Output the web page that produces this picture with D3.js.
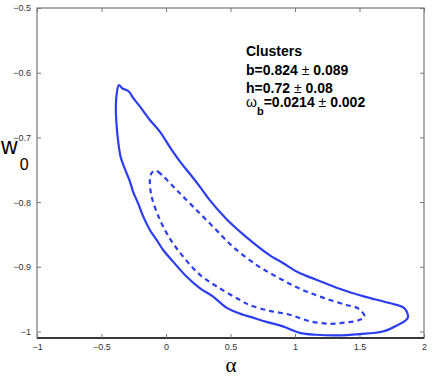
<!DOCTYPE html>
<meta charset="utf-8">
<html>
<head>
<style>
  body { margin: 0; background: #fff; }
  .tick text { font-family: "Liberation Sans", Arial, sans-serif; font-size: 9px; fill: #333; }
  .legend { font-family: "Liberation Sans", Arial, sans-serif; font-size: 14px; font-weight: bold; fill: #000; }
</style>
<script src="https://d3js.org/d3.v7.min.js"></script>
</head>
<body>
<svg width="436" height="382"></svg>
<script>
// ---- data ----
var xTicks = [-1, -0.5, 0, 0.5, 1, 1.5, 2];
var yTicks = [-1, -0.9, -0.8, -0.7, -0.6, -0.5];

// outer (solid) contour
var outerAlpha = [-0.365, -0.340, -0.288, -0.255, -0.203, -0.125, -0.048, 0.043, 0.107, 0.200, 0.262, 0.339,
  0.468, 0.623, 0.811, 0.906, 1.020, 1.165, 1.268, 1.345, 1.539, 1.732, 1.848, 1.874, 1.786, 1.680, 1.500,
  1.320, 1.165, 1.036, 0.906, 0.778, 0.649, 0.597, 0.468, 0.365, 0.262, 0.159, 0.055, -0.022, -0.074,
  -0.125, -0.177, -0.216, -0.255, -0.280, -0.306, -0.332, -0.352, -0.371, -0.383, -0.389, -0.383];
var outerW = [-0.619, -0.624, -0.629, -0.639, -0.652, -0.673, -0.691, -0.719, -0.737, -0.760, -0.776, -0.797,
  -0.826, -0.854, -0.883, -0.894, -0.908, -0.920, -0.928, -0.934, -0.946, -0.956, -0.964, -0.979, -0.991, -1.000, -1.004,
  -1.006, -1.005, -1.002, -0.992, -0.985, -0.977, -0.974, -0.963, -0.946, -0.933, -0.915, -0.892, -0.874, -0.858,
  -0.843, -0.822, -0.802, -0.784, -0.768, -0.755, -0.742, -0.730, -0.706, -0.681, -0.654, -0.634];

// inner (dashed) contour
var innerAlpha = [-0.083, -0.061, -0.022, 0.081, 0.210, 0.365, 0.519, 0.700, 0.827, 0.958, 1.087, 1.237, 1.397,
  1.487, 1.539, 1.485, 1.397, 1.276, 1.113, 0.958, 0.803, 0.649, 0.571, 0.391, 0.262, 0.132, 0.029, -0.048,
  -0.112, -0.125, -0.112];
var innerW = [-0.751, -0.753, -0.760, -0.781, -0.807, -0.838, -0.869, -0.897, -0.912, -0.926, -0.938, -0.949, -0.959,
  -0.964, -0.977, -0.983, -0.986, -0.988, -0.984, -0.974, -0.968, -0.959, -0.951, -0.930, -0.912, -0.884, -0.856, -0.827,
  -0.791, -0.766, -0.755];

var legendTitle = "Clusters";
var legendNames = ["b", "h", "\u03c9"];
var legendSubs = ["", "", "b"];
var legendValues = ["0.824", "0.72", "0.0214"];
var legendErrors = ["0.089", "0.08", "0.002"];

// ---- layout ----
var svg = d3.select("svg");
var mLeft = 37, mRight = 424, mTop = 8, mBottom = 338;
var blue = "#2b3ef2";

var x = d3.scaleLinear().domain([-1, 2]).range([mLeft, mRight]);
var y = d3.scaleLinear().domain([-1.01, -0.5]).range([mBottom, mTop]);

// frame
svg.append("rect")
   .attr("x", mLeft).attr("y", mTop)
   .attr("width", mRight - mLeft).attr("height", mBottom - mTop)
   .attr("fill", "none").attr("stroke", "#777").attr("stroke-width", 1.2);
svg.append("line")
   .attr("x1", mLeft).attr("x2", mRight).attr("y1", mBottom).attr("y2", mBottom)
   .attr("stroke", "#111").attr("stroke-width", 1.5);

// axes (ticks pointing inwards, matlab style)
function styleAxis(g) {
  g.select(".domain").remove();
  g.selectAll(".tick line").attr("stroke", "#777");
}
var fmt = d3.format("");
svg.append("g")
   .attr("transform", "translate(0," + mBottom + ")")
   .call(d3.axisBottom(x).tickValues(xTicks).tickSizeInner(-4).tickSizeOuter(0).tickPadding(6).tickFormat(fmt))
   .call(styleAxis);
svg.append("g")
   .attr("transform", "translate(0," + mTop + ")")
   .call(d3.axisTop(x).tickValues(xTicks).tickSizeInner(-4).tickSizeOuter(0).tickFormat(""))
   .call(styleAxis);
svg.append("g")
   .attr("transform", "translate(" + mLeft + ",0)")
   .call(d3.axisLeft(y).tickValues(yTicks).tickSizeInner(-4).tickSizeOuter(0).tickPadding(6).tickFormat(fmt))
   .call(styleAxis);
svg.append("g")
   .attr("transform", "translate(" + mRight + ",0)")
   .call(d3.axisRight(y).tickValues(yTicks).tickSizeInner(-4).tickSizeOuter(0).tickFormat(""))
   .call(styleAxis);

// contours
var line = d3.line()
  .x(function(d) { return x(d[0]); })
  .y(function(d) { return y(d[1]); })
  .curve(d3.curveCatmullRomClosed.alpha(0.5));

svg.append("path")
   .datum(d3.zip(outerAlpha, outerW))
   .attr("d", line)
   .attr("fill", "none").attr("stroke", blue).attr("stroke-width", 2.2);

svg.append("path")
   .datum(d3.zip(innerAlpha, innerW))
   .attr("d", line)
   .attr("fill", "none").attr("stroke", blue).attr("stroke-width", 2.2)
   .attr("stroke-dasharray", "5,4");

// axis labels
svg.append("text")
   .attr("x", 231).attr("y", 372)
   .attr("text-anchor", "middle")
   .attr("font-family", "'Liberation Serif', 'DejaVu Serif', serif")
   .attr("font-size", "21px")
   .text("\u03b1");

var wl = svg.append("text")
   .attr("x", 1).attr("y", 154)
   .attr("font-family", "'Liberation Sans', Arial, sans-serif")
   .attr("font-size", "23px");
wl.append("tspan").text("w");
wl.append("tspan").attr("font-size", "16px").attr("dx", 2).attr("dy", 16).text("0");

// legend
svg.append("text").attr("class", "legend")
   .attr("x", 246).attr("y", 56).text(legendTitle);

var rows = [75, 93, 107];
legendNames.forEach(function(n, i) {
  var t = svg.append("text").attr("class", "legend").attr("x", 246).attr("y", rows[i]);
  if (legendSubs[i]) {
    t.append("tspan").attr("font-weight", "normal").text(n);
    t.append("tspan").attr("font-size", "11px").attr("dy", 8).text(legendSubs[i]);
    t.append("tspan").attr("dy", -8).text("=" + legendValues[i] + " ");
  } else {
    t.append("tspan").text(n + "=" + legendValues[i] + " ");
  }
  t.append("tspan").attr("font-weight", "normal").text("\u00b1");
  t.append("tspan").text(" " + legendErrors[i]);
});
</script>
</body>
</html>
